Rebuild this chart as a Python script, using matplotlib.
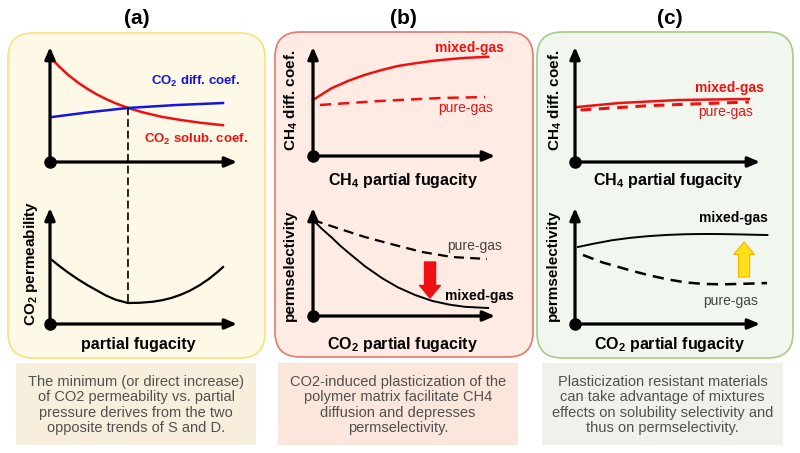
import matplotlib
matplotlib.use("Agg")
import matplotlib.pyplot as plt
from matplotlib.patches import FancyBboxPatch, Rectangle, ConnectionPatch

plt.rcParams['font.family'] = ['Liberation Sans', 'DejaVu Sans']
plt.rcParams['mathtext.fontset'] = 'custom'
plt.rcParams['mathtext.rm'] = 'Liberation Sans'
plt.rcParams['mathtext.bf'] = 'Liberation Sans:bold'
plt.rcParams['mathtext.it'] = 'Liberation Sans:italic'

# ---- schematic data (axis units 0..10) ----
# (a) top: CO2 solubility and diffusion coefficients
a_sol_x = [0.0, 0.5, 1.0, 1.5, 2.0, 2.5, 3.0, 3.5, 4.17, 5.0, 6.0, 7.0, 8.0, 9.25]
a_sol_y = [9.13, 8.28, 7.54, 6.9, 6.36, 5.88, 5.47, 5.11, 4.7, 4.3, 3.92, 3.65, 3.42, 3.2]
a_dif_x = [0.1, 2.1, 4.17, 6.7, 9.25]
a_dif_y = [3.91, 4.33, 4.7, 4.95, 5.13]
# (a) bottom: CO2 permeability
a_perm_x = [0.1, 0.5, 1.0, 1.5, 2.0, 2.5, 3.0, 3.5, 4.17, 4.8, 5.5, 6.0, 6.5, 7.0,
            7.5, 8.0, 8.5, 9.0, 9.25]
a_perm_y = [5.52, 5.0, 4.4, 3.85, 3.35, 2.9, 2.45, 2.1, 1.81, 1.83, 1.92, 2.05, 2.25,
            2.53, 2.89, 3.34, 3.89, 4.54, 4.91]
a_cross = (4.17, 4.7, 1.81)   # x of crossing, y top, y bottom

# (b) top: CH4 diffusion coefficient
b_mix_x = [0.0, 1.0, 1.92, 2.86, 3.8, 4.67, 5.6, 6.54, 7.5, 8.35, 9.62]
b_mix_y = [5.14, 6.2, 6.88, 7.45, 7.9, 8.26, 8.5, 8.72, 8.88, 9.0, 9.1]
b_pure_x = [0.38, 3.7, 7.0, 9.45]
b_pure_y = [4.68, 5.05, 5.32, 5.41]
# (b) bottom: permselectivity
b_sel_pure_x = [0.0, 1.48, 2.86, 4.5, 5.99, 7.64, 9.56]
b_sel_pure_y = [8.89, 8.06, 7.31, 6.57, 5.93, 5.46, 5.28]
b_sel_mix_x = [0.0, 0.5, 1.04, 1.5, 2.03, 2.86, 3.8, 4.67, 5.6, 6.54, 7.5, 8.35, 9.62]
b_sel_mix_y = [8.89, 8.05, 7.25, 6.5, 5.75, 4.6, 3.5, 2.65, 1.95, 1.4, 1.05, 0.85, 0.74]

# (c) top: CH4 diffusion coefficient
c_mix_x = [0.1, 2.4, 5.6, 9.4]
c_mix_y = [4.78, 5.13, 5.39, 5.48]
c_pure_x = [0.3, 4.0, 9.4]
c_pure_y = [4.52, 4.9, 5.22]
# (c) bottom: permselectivity
c_sel_mix_x = [0.16, 1.0, 2.0, 3.0, 4.0, 5.0, 6.0, 7.0, 8.0, 9.0, 10.4]
c_sel_mix_y = [6.64, 6.92, 7.22, 7.43, 7.58, 7.68, 7.74, 7.76, 7.75, 7.72, 7.67]
c_sel_pure_x = [0.43, 1.5, 3.0, 4.0, 5.0, 6.0, 7.0, 8.0, 9.0, 10.38]
c_sel_pure_y = [5.95, 5.3, 4.62, 4.2, 3.85, 3.58, 3.45, 3.42, 3.46, 3.53]

titles = ['(a)', '(b)', '(c)']
captions = [
    "The minimum (or direct increase)\nof CO2 permeability vs. partial\npressure derives from the two\nopposite trends of S and D.",
    "CO2-induced plasticization of the\npolymer matrix facilitate CH4\ndiffusion and depresses\npermselectivity.",
    "Plasticization resistant materials\ncan take advantage of mixtures\neffects on solubility selectivity and\nthus on permselectivity.",
]

W, H = 800, 453
fig = plt.figure(figsize=(8, 4.53), dpi=100)
bg = fig.add_axes([0, 0, 1, 1])
bg.set_xlim(0, W)
bg.set_ylim(H, 0)
bg.axis('off')

# panel boxes
box_spec = [(8, 33, 257, 325, '#FEF8E6', '#F7E17E'),
            (275, 32, 258, 325, '#FDEBE4', '#E8776D'),
            (537, 32, 256, 326, '#F1F6EE', '#A3CC88')]
for x, y, w, h, fc, ec in box_spec:
    bg.add_patch(FancyBboxPatch((x + 25, y + 25), w - 50, h - 50,
                                boxstyle='round,pad=25', fc=fc, ec=ec, lw=1.2))

cap_spec = [(16, 363, 240, 82, '#F7EFDC'),
            (278, 363, 240, 82, '#FBE6DC'),
            (542, 363, 241, 82, '#EEF2EA')]
for (x, y, w, h, fc), txt in zip(cap_spec, captions):
    bg.add_patch(Rectangle((x, y), w, h, fc=fc, ec='none'))
    bg.text(x + w / 2, y + h / 2 + 1, txt, ha='center', va='center',
            fontsize=10.5, color='#505050', linespacing=1.14)

for xc, t in zip([137, 403, 670], titles):
    bg.text(xc, 19, t, ha='center', va='center', fontsize=15, fontweight='bold')


def make_ax(x0, y0, x1, y1):
    ax = fig.add_axes([x0 / W, 1 - y0 / H, (x1 - x0) / W, (y0 - y1) / H])
    ax.set_xlim(0, 10)
    ax.set_ylim(0, 10)
    ax.axis('off')
    ap = dict(arrowstyle='-|>,head_length=0.7,head_width=0.3', lw=2.3,
              color='black', shrinkA=0, shrinkB=0)
    ax.annotate('', xy=(1, 0), xytext=(0, 0), xycoords='axes fraction', arrowprops=ap)
    ax.annotate('', xy=(0, 1), xytext=(0, 0), xycoords='axes fraction', arrowprops=ap)
    ax.plot([0], [0], 'o', ms=8, color='black', clip_on=False, zorder=5)
    return ax


ax_a1 = make_ax(50, 162, 237, 47)
ax_a2 = make_ax(50, 324, 237, 208)
ax_b1 = make_ax(313, 156, 495, 47)
ax_b2 = make_ax(313, 316, 495, 208)
ax_c1 = make_ax(575, 162, 760, 47)
ax_c2 = make_ax(575, 324, 760, 208)

# (a)
ax_a1.plot(a_sol_x, a_sol_y, color='#EE1111', lw=1.8, clip_on=False)
ax_a1.plot(a_dif_x, a_dif_y, color='#1515DD', lw=1.8, clip_on=False)
ax_a2.plot(a_perm_x, a_perm_y, color='black', lw=1.6, clip_on=False)
con = ConnectionPatch(xyA=(a_cross[0], a_cross[1]), coordsA=ax_a1.transData,
                      xyB=(a_cross[0], a_cross[2]), coordsB=ax_a2.transData,
                      color='black', lw=1.2, ls=(0, (4, 3)))
fig.add_artist(con)

# (b)
ax_b1.plot(b_mix_x, b_mix_y, color='#EE1111', lw=1.8, clip_on=False)
ax_b1.plot(b_pure_x, b_pure_y, color='#EE1111', lw=1.8, ls=(0, (4.5, 2.8)), clip_on=False)
ax_b2.plot(b_sel_pure_x, b_sel_pure_y, color='black', lw=1.6, ls=(0, (4.5, 2.8)), clip_on=False)
ax_b2.plot(b_sel_mix_x, b_sel_mix_y, color='black', lw=1.4, clip_on=False)
ax_b2.annotate('', xy=(6.43, 1.67), xytext=(6.43, 5.0),
               arrowprops=dict(arrowstyle='simple,head_length=0.9,head_width=1.5,tail_width=0.8',
                               fc='#EE1111', ec='#EE1111', mutation_scale=10,
                               shrinkA=0, shrinkB=0))

# (c)
ax_c1.plot(c_pure_x, c_pure_y, color='#EE1111', lw=2.2, ls=(0, (3.5, 2.5)), clip_on=False)
ax_c1.plot(c_mix_x, c_mix_y, color='#EE1111', lw=1.8, clip_on=False)
ax_c2.plot(c_sel_mix_x, c_sel_mix_y, color='black', lw=1.4, clip_on=False)
ax_c2.plot(c_sel_pure_x, c_sel_pure_y, color='black', lw=1.8, ls=(0, (4.5, 2.8)), clip_on=False)
ax_c2.annotate('', xy=(9.14, 7.07), xytext=(9.14, 4.05),
               arrowprops=dict(arrowstyle='simple,head_length=0.9,head_width=1.5,tail_width=0.8',
                               fc='#FFE21A', ec='#F4B400', lw=0.8, mutation_scale=10,
                               shrinkA=0, shrinkB=0))

# curve labels
bg.text(196, 81, r'CO$_\mathbf{2}$ diff. coef.', color='#1515DD', fontsize=9.5,
        fontweight='bold', ha='center', va='center')
bg.text(196, 139, r'CO$_\mathbf{2}$ solub. coef.', color='#EE1111', fontsize=9.5,
        fontweight='bold', ha='center', va='center')
bg.text(469, 48, 'mixed-gas', color='#EE1111', fontsize=10, fontweight='bold',
        ha='center', va='center')
bg.text(466, 108, 'pure-gas', color='#EE1111', fontsize=10, ha='center', va='center')
bg.text(475, 246, 'pure-gas', color='#444444', fontsize=10, ha='center', va='center')
bg.text(479, 296, 'mixed-gas', color='black', fontsize=10, fontweight='bold',
        ha='center', va='center')
bg.text(729, 88, 'mixed-gas', color='#EE1111', fontsize=10, fontweight='bold',
        ha='center', va='center')
bg.text(726, 112, 'pure-gas', color='#EE1111', fontsize=10, ha='center', va='center')
bg.text(733, 218, 'mixed-gas', color='black', fontsize=10, fontweight='bold',
        ha='center', va='center')
bg.text(731, 301, 'pure-gas', color='#444444', fontsize=10, ha='center', va='center')

# axis labels
xl = dict(fontsize=11.5, fontweight='bold', ha='center', va='center')
bg.text(138, 345, 'partial fugacity', **xl)
bg.text(403, 180, r'CH$_\mathbf{4}$ partial fugacity', **xl)
bg.text(403, 345, r'CO$_\mathbf{2}$ partial fugacity', **xl)
bg.text(668, 180, r'CH$_\mathbf{4}$ partial fugacity', **xl)
bg.text(670, 345, r'CO$_\mathbf{2}$ partial fugacity', **xl)

yl = dict(fontsize=11, fontweight='bold', ha='center', va='center', rotation=90)
bg.text(31, 263, r'CO$_\mathbf{2}$ permeability', **yl)
bg.text(291, 100, r'CH$_\mathbf{4}$ diff. coef.', **yl)
bg.text(290, 265, 'permselectivity', **yl)
bg.text(555, 100, r'CH$_\mathbf{4}$ diff. coef.', **yl)
bg.text(553, 265, 'permselectivity', **yl)

fig.savefig('out.png', dpi=100, facecolor='white')
